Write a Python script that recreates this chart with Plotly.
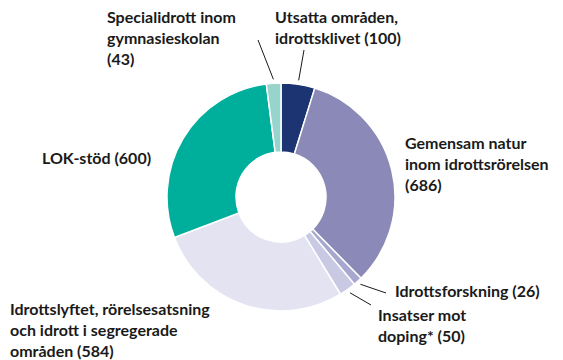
import math
import plotly.graph_objects as go

# Fördelning av medel (miljoner kronor)
labels = [
    "Utsatta områden,<br>idrottsklivet",
    "Gemensam natur<br>inom idrottsrörelsen",
    "Idrottsforskning",
    "Insatser mot<br>doping*",
    "Idrottslyftet, rörelsesatsning<br>och idrott i segregerade<br>områden",
    "LOK-stöd",
    "Specialidrott inom<br>gymnasieskolan",
]
values = [100, 686, 26, 50, 584, 600, 43]
colors = ["#1d3472", "#8a89b7", "#a7a7cf", "#c9c9e3", "#e3e3f2", "#00ae9c", "#97d4cb"]

# Whether the value goes on its own line below the name
value_on_new_line = [False, True, False, False, False, False, True]

# Label placement in pixel space: x (left edge), y (block centre)
label_pos = [
    (273, 27),
    (403, 163),
    (393, 290),
    (376, 325),
    (8, 329),
    (40, 157),
    (105, 37),
]
# End points of leader lines on the label side (None = no leader)
leader_end = [(304, 50), None, (386, 293), (371, 305), None, None, (258, 40)]

W, H = 563, 360
CX, CY, R = 281, 197, 114
HOLE = 0.395

fig = go.Figure()
fig.add_trace(go.Pie(
    labels=labels,
    values=values,
    marker=dict(colors=colors, line=dict(color="white", width=1.5)),
    hole=HOLE,
    sort=False,
    direction="clockwise",
    rotation=0,
    textinfo="none",
    hoverinfo="label+value",
    showlegend=False,
    domain=dict(x=[(CX - R) / W, (CX + R) / W], y=[(H - CY - R) / H, (H - CY + R) / H]),
))

font = dict(family="Lato, Inter, sans-serif", size=16, color="#1a1a1a", weight="bold")

total = sum(values)
cum = 0
shapes = []
annotations = []
for lab, v, newline, (lx, ly), end in zip(labels, values, value_on_new_line, label_pos, leader_end):
    mid = (cum + v / 2) / total * 2 * math.pi
    cum += v
    sep = "<br>" if newline else " "
    annotations.append(dict(
        x=lx, y=ly, xref="x", yref="y", text=f"{lab}{sep}({v})", showarrow=False,
        xanchor="left", yanchor="middle", align="left", font=font,
    ))
    if end is not None:
        sx = CX + (R + 4) * math.sin(mid)
        sy = CY - (R + 4) * math.cos(mid)
        shapes.append(dict(type="line", xref="x", yref="y", x0=sx, y0=sy,
                           x1=end[0], y1=end[1], line=dict(color="#1a1a1a", width=1)))

fig.update_layout(
    width=W, height=H,
    margin=dict(l=0, r=0, t=0, b=0),
    paper_bgcolor="white", plot_bgcolor="rgba(0,0,0,0)",
    xaxis=dict(range=[0, W], visible=False, fixedrange=True),
    yaxis=dict(range=[H, 0], visible=False, fixedrange=True),
    shapes=shapes,
    annotations=annotations,
)

fig.write_html("out.html")
